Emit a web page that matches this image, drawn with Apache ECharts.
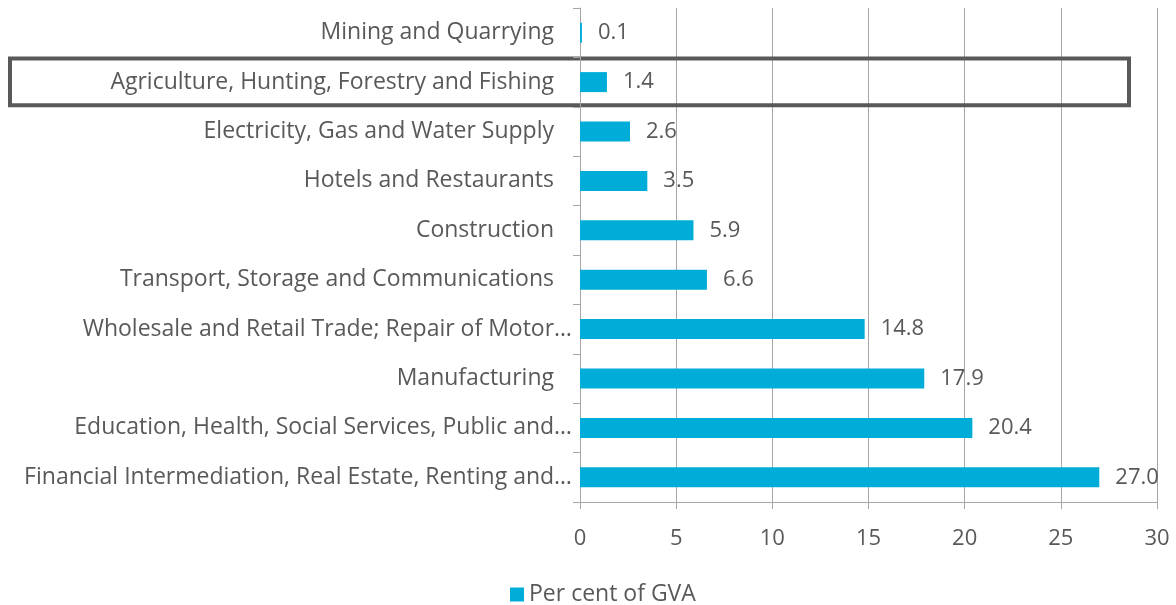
<!DOCTYPE html>
<html><head><meta charset="utf-8">
<script src="https://cdn.jsdelivr.net/npm/echarts@6/dist/echarts.min.js"></script>
<style>html,body{margin:0;padding:0;background:#fff}#c{width:1176px;height:605px}</style>
</head><body><div id="c"></div>
<script>
const categories = [
  "Mining and Quarrying",
  "Agriculture, Hunting, Forestry and Fishing",
  "Electricity, Gas and Water Supply",
  "Hotels and Restaurants",
  "Construction",
  "Transport, Storage and Communications",
  "Wholesale and Retail Trade; Repair of Motor…",
  "Manufacturing",
  "Education, Health, Social Services, Public and…",
  "Financial Intermediation, Real Estate, Renting and…"
];
const values = [0.1, 1.4, 2.6, 3.5, 5.9, 6.6, 14.8, 17.9, 20.4, 27.0];
const seriesName = "Per cent of GVA";
const highlightIndex = 1;

const FONT = "Open Sans";
const FS = 22;
const CFS = 23;
const TXT = "#595959";
const chart = echarts.init(document.getElementById('c'), null, {renderer: 'canvas'});
chart.setOption({
  animation: false,
  textStyle: {fontFamily: FONT},
  grid: {left: 580, right: 19, top: 8, bottom: 103, containLabel: false},
  legend: {
    top: 578, left: 505,
    itemWidth: 14, itemHeight: 14, itemGap: 6,
    icon: 'rect',
    textStyle: {fontFamily: FONT, fontSize: CFS, color: TXT},
    data: [seriesName]
  },
  xAxis: {
    type: 'value', min: 0, max: 30, interval: 5,
    axisLine: {show: true, lineStyle: {color: '#a6a6a6'}},
    axisTick: {show: true, length: 7, lineStyle: {color: '#a6a6a6'}},
    splitLine: {show: true, lineStyle: {color: '#a6a6a6'}},
    axisLabel: {fontFamily: FONT, fontSize: FS, color: TXT, margin: 26}
  },
  yAxis: {
    type: 'category', data: categories, inverse: true,
    axisLine: {show: true, lineStyle: {color: '#a6a6a6'}},
    axisTick: {show: true, length: 7, lineStyle: {color: '#a6a6a6'}},
    axisLabel: {fontFamily: FONT, fontSize: CFS, color: TXT, margin: 8,
      formatter: v => v.endsWith('…') ? v : '{n|' + v + '}',
      rich: {n: {fontFamily: FONT, fontSize: CFS, color: TXT, padding: [0, 18, 0, 0]}}}
  },
  series: [{
    name: seriesName, type: 'bar', data: values, barWidth: 20,
    itemStyle: {color: '#00ADD9'},
    label: {show: true, position: 'right', distance: 16, fontFamily: FONT, fontSize: FS, color: TXT,
      formatter: p => p.value.toFixed(1)}
  }]
});
const yc = chart.convertToPixel({yAxisIndex: 0}, categories[highlightIndex]);
const yPrev = chart.convertToPixel({yAxisIndex: 0}, categories[highlightIndex - 1]);
const band = yc - yPrev;
chart.setOption({
  graphic: [{
    type: 'rect', silent: true,
    shape: {x: 10, y: yc - band * 0.48, width: 1119, height: band * 0.95},
    style: {fill: 'none', stroke: '#595959', lineWidth: 4}
  }]
});
</script></body></html>
